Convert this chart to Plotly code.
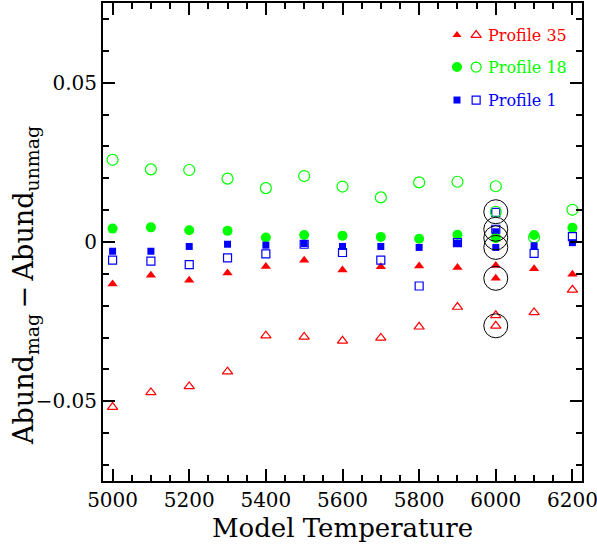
import plotly.graph_objects as go

temps = [5000, 5100, 5200, 5300, 5400, 5500, 5600, 5700, 5800, 5900, 6000, 6100, 6200]

p35_filled = [-0.0132, -0.0104, -0.0120, -0.0097, -0.0077, -0.0057, -0.0088, -0.0078, -0.0075, -0.0080, -0.0074, -0.0084, -0.0101]
p35_open = [-0.0518, -0.0472, -0.0453, -0.0407, -0.0294, -0.0298, -0.0310, -0.0301, -0.0266, -0.0204, -0.0230, -0.0221, -0.0150]
p18_filled = [0.0042, 0.0046, 0.0037, 0.0035, 0.0014, 0.0022, 0.0020, 0.0016, 0.0010, 0.0023, 0.0013, 0.0022, 0.0045]
p18_open = [0.0258, 0.0228, 0.0226, 0.0199, 0.0169, 0.0207, 0.0174, 0.0140, 0.0187, 0.0189, 0.0175, 0.0015, 0.0101]
p1_filled = [-0.0029, -0.0029, -0.0014, -0.0007, -0.0010, -0.0005, -0.0014, -0.0014, -0.0017, -0.0004, 0.0032, -0.0012, -0.0002]
p1_open = [-0.0057, -0.0060, -0.0071, -0.0050, -0.0037, -0.0007, -0.0033, -0.0057, -0.0138, -0.0002, 0.0093, -0.0036, 0.0017]

# special (circled) models at 6000 K
special_temp = 6000
special_p35_filled = -0.0114
special_p35_open = -0.0263
special_p18_filled = 0.0013
special_p18_open = 0.0095
special_p1_filled = -0.0017
special_p1_open = 0.0040

legend_labels = ["Profile 35", "Profile 18", "Profile 1"]

RED, GREEN, BLUE = "#ff0000", "#00ff00", "#0000ff"
FONT = "DejaVu Serif"

fig = go.Figure()

def add(x, y, symbol, color, size, filled):
    if filled:
        marker = dict(symbol=symbol, color=color, size=size, line=dict(width=0))
    else:
        marker = dict(symbol=symbol + "-open", color=color, size=size, line=dict(width=1.2, color=color))
    fig.add_trace(go.Scatter(x=x, y=y, mode="markers", marker=marker, showlegend=False, hoverinfo="skip"))

# regular series
add(temps, p35_filled, "triangle-up", RED, 9, True)
add(temps, p35_open, "triangle-up", RED, 9, False)
add(temps, p18_filled, "circle", GREEN, 10, True)
add(temps, p18_open, "circle", GREEN, 11, False)
add(temps, p1_filled, "square", BLUE, 7, True)
add(temps, p1_open, "square", BLUE, 8, False)

# special points
add([special_temp], [special_p35_filled], "triangle-up", RED, 9, True)
add([special_temp], [special_p35_open], "triangle-up", RED, 9, False)
add([special_temp], [special_p18_filled], "circle", GREEN, 10, True)
add([special_temp], [special_p18_open], "circle", GREEN, 11, False)
add([special_temp], [special_p1_filled], "square", BLUE, 7, True)
add([special_temp], [special_p1_open], "square", BLUE, 8, False)

special_vals = [special_p18_open, special_p1_open, special_p18_filled,
                special_p1_filled, special_p35_filled, special_p35_open]
fig.add_trace(go.Scatter(
    x=[special_temp] * len(special_vals), y=special_vals, mode="markers",
    marker=dict(symbol="circle-open", size=24, color="black", line=dict(width=1, color="black")),
    showlegend=False, hoverinfo="skip"))

# custom legend on overlay axes
leg_y = [0.933, 0.866, 0.797]
leg_sym = ["triangle-up", "circle", "square"]
leg_col = [RED, GREEN, BLUE]
leg_size = [(8, 9), (10, 10), (7, 8)]
for i in range(3):
    fig.add_trace(go.Scatter(x=[0.739], y=[leg_y[i]], xaxis="x2", yaxis="y2", mode="markers",
                             marker=dict(symbol=leg_sym[i], color=leg_col[i], size=leg_size[i][0], line=dict(width=0)),
                             showlegend=False, hoverinfo="skip"))
    fig.add_trace(go.Scatter(x=[0.779], y=[leg_y[i]], xaxis="x2", yaxis="y2", mode="markers",
                             marker=dict(symbol=leg_sym[i] + "-open", color=leg_col[i], size=leg_size[i][1],
                                         line=dict(width=1.2, color=leg_col[i])),
                             showlegend=False, hoverinfo="skip"))
    fig.add_annotation(x=0.799, y=leg_y[i], xref="paper", yref="paper", text=legend_labels[i],
                       showarrow=False, xanchor="left", yanchor="middle",
                       font=dict(family=FONT, size=16, color=leg_col[i]))

# y-axis title as annotation
fig.add_annotation(x=-0.163, y=0.41, xref="paper", yref="paper",
                   text="Abund<sub>mag</sub>\u2009\u2212\u2009Abund<sub>unmag</sub>",
                   textangle=-90, showarrow=False, xanchor="center", yanchor="middle",
                   font=dict(family=FONT, size=27, color="black"))

axis_common = dict(showgrid=False, zeroline=False, showline=True, linecolor="black", linewidth=2,
                   mirror="ticks", ticks="inside", tickcolor="black", tickwidth=1.5, automargin=False,
                   ticklabeloverflow="allow",
                   tickfont=dict(family=FONT, size=20, color="black"))

fig.update_layout(
    width=597, height=548,
    margin=dict(l=103, r=15, t=3, b=67),
    paper_bgcolor="white", plot_bgcolor="white",
    xaxis=dict(range=[4975, 6225], dtick=200, tick0=5000, ticklen=12,
               minor=dict(dtick=50, tick0=5000, ticklen=6, ticks="inside", tickcolor="black", tickwidth=1.5),
               title=dict(text="Model Temperature", font=dict(family=FONT, size=26, color="black"), standoff=8),
               **axis_common),
    yaxis=dict(range=[-0.075, 0.075], tickvals=[-0.05, 0, 0.05], ticktext=["\u22120.05", "0", "0.05"],
               ticklen=12,
               minor=dict(dtick=0.01, tick0=0, ticklen=6, ticks="inside", tickcolor="black", tickwidth=1.5),
               **axis_common),
    xaxis2=dict(range=[0, 1], overlaying="x", visible=False, domain=[0, 1]),
    yaxis2=dict(range=[0, 1], overlaying="y", visible=False),
)

fig.write_html("out.html", config={"displayModeBar": False},
               post_script="document.body.style.margin='0';document.body.style.overflow='hidden';")
